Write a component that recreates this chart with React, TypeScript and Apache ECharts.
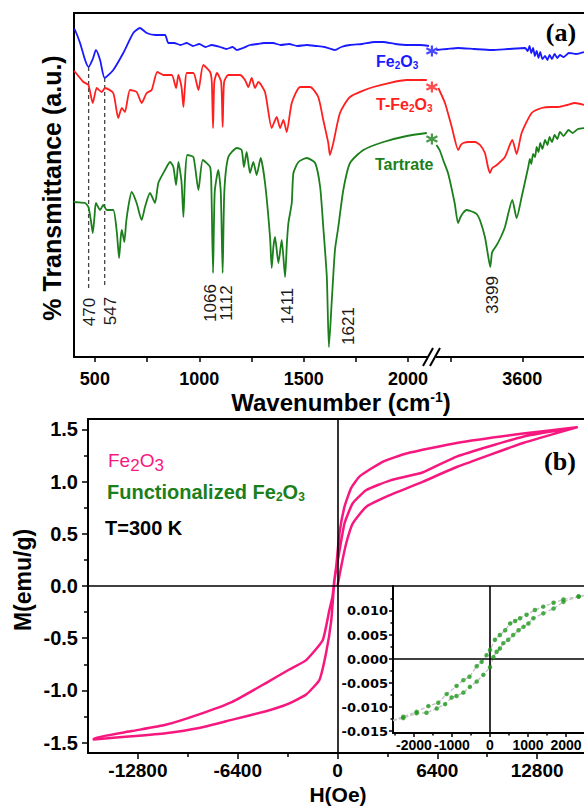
import { useEffect, useRef } from "react";
import * as echarts from "echarts";

type P = [number, number];

// ---------- (a) FTIR spectra (x: wavenumber cm-1, y: transmittance a.u.) ----------
const topLeftTicks = [500, 750, 1000, 1250, 1500, 1750, 2000];
const topLeftLabels = [500, 1000, 1500, 2000];
const topRightTicks = [3200, 3600, 4000];
const topRightLabels = [3600];

const blueLeft: P[] = [
  [400, 328], [405, 327], [429, 314], [453, 297], [470, 290], [490, 298], [505, 307], [525, 297],
  [547, 279], [588, 287], [636, 304], [684, 324], [716, 329], [748, 324], [790, 322], [836, 322],
  [852, 314], [880, 314], [910, 312], [940, 314], [970, 311], [1000, 313], [1030, 310], [1060, 312],
  [1100, 310], [1130, 308], [1160, 310], [1180, 307], [1210, 309], [1243, 312], [1280, 313],
  [1310, 314], [1353, 314], [1390, 312], [1430, 313], [1470, 311], [1515, 312], [1560, 311],
  [1600, 310], [1650, 307], [1680, 310], [1722, 312], [1780, 313], [1840, 315], [1880, 315],
  [1940, 313], [2000, 312], [2060, 312], [2100, 311],
];
const blueRight: P[] = [
  [3120, 307], [3180, 308], [3241, 309], [3330, 308], [3428, 307], [3520, 308], [3615, 309],
  [3630, 306], [3640, 311], [3650, 304], [3660, 309], [3670, 301], [3680, 306], [3690, 299],
  [3700, 305], [3712, 298], [3727, 301], [3740, 297], [3752, 302], [3765, 298], [3780, 303],
  [3795, 299], [3810, 302], [3830, 300], [3860, 304], [3900, 303], [3944, 305],
];
const redLeft: P[] = [
  [400, 286], [405, 285], [445, 275], [469, 272], [490, 254], [509, 269], [533, 265], [549, 269],
  [588, 264], [612, 239], [629, 249], [644, 245], [668, 267], [700, 265], [724, 254], [748, 264],
  [772, 267], [799, 285], [828, 282], [868, 282], [889, 269], [900, 282], [915, 270], [924, 250],
  [932, 272], [940, 284], [972, 284], [996, 267], [1019, 292], [1052, 285], [1060, 275],
  [1066, 229], [1072, 275], [1085, 284], [1105, 275], [1112, 230], [1119, 275], [1139, 282],
  [1195, 282], [1219, 277], [1235, 270], [1251, 279], [1267, 269], [1283, 275], [1315, 265],
  [1347, 229], [1371, 240], [1387, 229], [1403, 237], [1419, 225], [1443, 254], [1483, 270],
  [1531, 270], [1570, 260], [1594, 237], [1618, 214], [1626, 202], [1642, 214], [1674, 244],
  [1722, 260], [1834, 270], [1994, 277], [2090, 277],
];
const redRight: P[] = [
  [3131, 269], [3168, 254], [3206, 230], [3242, 207], [3256, 212], [3270, 214], [3300, 215],
  [3336, 215], [3364, 212], [3391, 204], [3408, 190], [3419, 184], [3432, 189], [3457, 192],
  [3503, 200], [3544, 217], [3568, 203], [3596, 224], [3652, 244], [3708, 249], [3760, 250],
  [3801, 250], [3850, 252], [3894, 254], [3944, 252],
];
const greenLeft: P[] = [
  [400, 156], [405, 155], [453, 154], [469, 150], [482, 135], [490, 124], [498, 140], [505, 154],
  [525, 147], [540, 152], [557, 147], [588, 147], [605, 125], [616, 99], [624, 120], [629, 127],
  [641, 115], [650, 135], [660, 150], [676, 165], [700, 154], [724, 137], [740, 150], [764, 164],
  [788, 154], [804, 174], [836, 187], [860, 195], [876, 190], [889, 172], [900, 195], [915, 175],
  [924, 140], [932, 180], [943, 202], [972, 200], [996, 167], [1017, 197], [1052, 190],
  [1058, 170], [1066, 84], [1074, 165], [1091, 187], [1103, 165], [1112, 84], [1120, 165],
  [1139, 200], [1180, 209], [1203, 207], [1214, 190], [1227, 205], [1243, 184], [1259, 195],
  [1275, 182], [1294, 199], [1315, 174], [1339, 120], [1347, 89], [1355, 110], [1363, 120],
  [1379, 94], [1395, 117], [1411, 80], [1420, 115], [1427, 134], [1443, 154], [1451, 184],
  [1475, 195], [1515, 199], [1555, 194], [1579, 170], [1594, 130], [1611, 80], [1621, 10],
  [1635, 57], [1650, 107], [1666, 130], [1690, 167], [1722, 194], [1786, 207], [1882, 215],
  [1994, 221], [2090, 224],
];
const greenRight: P[] = [
  [3120, 212], [3138, 207], [3160, 196], [3185, 184], [3222, 154], [3241, 134], [3255, 140],
  [3269, 144], [3288, 147], [3310, 146], [3325, 145], [3345, 143], [3363, 137], [3391, 120],
  [3410, 100], [3421, 90], [3430, 104], [3438, 107], [3457, 112], [3480, 120], [3503, 130],
  [3544, 157], [3568, 139], [3596, 160], [3633, 190], [3642, 198], [3650, 193], [3660, 203],
  [3671, 200], [3680, 210], [3690, 205], [3700, 214], [3712, 208], [3727, 217], [3740, 212],
  [3752, 220], [3765, 215], [3780, 222], [3795, 218], [3810, 225], [3830, 221], [3858, 227],
  [3880, 224], [3910, 228], [3946, 229],
];
const breakStars: P[] = [[3095, 306], [3095, 270], [3095, 218]];
const dash470: P[] = [[470, 290], [470, 69]];
const dash547: P[] = [[547, 279], [547, 69]];
const peakTexts = ["470", "547", "1066", "1112", "1411", "1621", "3399"];

// ---------- (b) M–H loop ----------
const mainXMajor = [-12800, -6400, 0, 6400, 12800];
const mainXMinor = [-9600, -3200, 3200, 9600];
const mainYMajor = [-1.5, -1.0, -0.5, 0, 0.5, 1.0, 1.5];
const mainYMinor = [-1.25, -0.75, -0.25, 0.25, 0.75, 1.25];

const loopVirgin: P[] = [
  [0, 0], [240, 0.19], [560, 0.41], [980, 0.6], [1850, 0.76], [3350, 0.87], [5490, 1.0],
  [7640, 1.14], [11900, 1.37], [15350, 1.52],
];
const loopDown: P[] = [
  [15350, 1.52], [11900, 1.46], [7640, 1.37], [4420, 1.27], [2890, 1.19], [1420, 1.05],
  [880, 0.94], [450, 0.76], [130, 0.51], [-80, 0.19], [-200, 0.06], [-320, -0.1], [-520, -0.23],
  [-950, -0.52], [-2010, -0.71], [-3090, -0.8], [-4590, -0.93], [-6750, -1.11], [-8880, -1.23],
  [-11020, -1.33], [-13190, -1.39], [-15630, -1.46],
];
const loopUp: P[] = [
  [-15630, -1.47], [-13190, -1.44], [-11020, -1.41], [-8880, -1.36], [-6730, -1.28],
  [-4590, -1.2], [-3520, -1.15], [-2880, -1.11], [-2010, -1.04], [-1160, -0.9], [-730, -0.64],
  [-400, -0.33], [-190, 0.06], [130, 0.34], [450, 0.6], [970, 0.79], [1850, 0.92], [3350, 1.01],
  [5490, 1.09], [7640, 1.24], [11900, 1.43], [15350, 1.52],
];

// inset: functionalized Fe2O3
const insetXMajor = [-2000, -1000, 0, 1000, 2000];
const insetXMinor = [-2500, -1500, -500, 500, 1500, 2500];
const insetYMajor = [-0.015, -0.01, -0.005, 0, 0.005, 0.01];
const insetYMinor = [-0.0125, -0.0075, -0.0025, 0.0025, 0.0075, 0.0125];
const insetUpper: P[] = [
  [-2280, -0.012], [-1930, -0.011], [-1620, -0.0098], [-1360, -0.0091], [-1140, -0.0073],
  [-880, -0.0056], [-700, -0.0044], [-540, -0.0037], [-350, -0.0015], [-220, -0.0006],
  [-90, 0.0008], [0, 0.0019], [130, 0.004], [260, 0.005], [400, 0.006], [530, 0.0074],
  [660, 0.0079], [790, 0.0085], [960, 0.0092], [1180, 0.0102], [1400, 0.0109], [1670, 0.0117],
  [1930, 0.0124], [2330, 0.013],
];
const insetLower: P[] = [
  [-2280, -0.0123], [-1930, -0.0113], [-1670, -0.0112], [-1400, -0.0103], [-1180, -0.0094],
  [-1010, -0.008], [-880, -0.0077], [-700, -0.007], [-530, -0.0058], [-350, -0.0047],
  [-175, -0.0033], [0, -0.0017], [90, 0.0004], [175, 0.0015], [260, 0.0022], [350, 0.0033],
  [480, 0.004], [610, 0.005], [750, 0.006], [880, 0.0067], [1010, 0.0074], [1140, 0.0085],
  [1400, 0.0095], [1670, 0.0105], [1930, 0.0119], [2330, 0.013],
];
const insetEdgeLeft: P = [-2550, -0.0128];
const insetEdgeRight: P = [2550, 0.0133];

// ---------- styling ----------
const BLUE = "#1a1aff";
const RED = "#ff1f1f";
const GREEN = "#1b7f1b";
const PINK = "#f7187f";
const DOT = "#1e9a1e";
const BLACK = "#000";
const FONT = "'Liberation Sans', Arial, Helvetica, sans-serif";
const SERIF = "'Liberation Serif', 'Times New Roman', serif";
const WIDE = "'DejaVu Sans', sans-serif";

const line2 = { show: true, onZero: false, lineStyle: { color: BLACK, width: 2 } };
const noLine = { show: false, onZero: false };
const ticks = (values: number[], length: number) => ({
  show: true, customValues: values, length, inside: false, lineStyle: { color: BLACK, width: 1.5 },
});
const noTick = { show: false };
const noLabel = { show: false };
const noSplit = { show: false };
const plain = (v: number) => String(v);
const lbl = (values: number[], margin: number, size: number, family: string, fmt: (v: number) => string = plain) => ({
  show: true, customValues: values, margin, fontSize: size, fontWeight: "bold", fontFamily: family, color: BLACK,
  formatter: fmt, hideOverlap: false, showMinLabel: true, showMaxLabel: true,
});

const lineSeries = (data: P[], color: string, xi: number, yi: number, width = 1.8, extra: any = {}) => ({
  type: "line", data, xAxisIndex: xi, yAxisIndex: yi, symbol: "none", showSymbol: false, silent: true,
  lineStyle: { color, width, join: "round" }, z: 3, ...extra,
});

const text = (x: number, y: number, t: string, fill: string, size: number, weight = "bold", extra: any = {}) => ({
  type: "text", x, y, z: 100, rotation: extra.rotation ?? 0,
  style: {
    text: t, fill, fontSize: size, fontWeight: weight, fontFamily: extra.family ?? FONT,
    textAlign: extra.align ?? "center", textVerticalAlign: "middle",
    align: extra.align ?? "center", verticalAlign: "middle",
  },
});
const subText = (x: number, y: number, t: string, fill: string, m: any, s: any, align = "left") => ({
  type: "text", x, y, z: 100,
  style: {
    text: t, fill, fontFamily: FONT, fontSize: m.fontSize, fontWeight: m.fontWeight,
    textAlign: align, textVerticalAlign: "middle", align, verticalAlign: "middle",
    rich: {
      m: { fill, fontFamily: FONT, ...m },
      s: { fill, fontFamily: FONT, verticalAlign: "bottom", ...s },
      p: { fill, fontFamily: FONT, verticalAlign: "top", ...s },
    },
  },
});

// sequence of text pieces laid out left to right, each with its own size and vertical shift
const measureCtx = typeof document !== "undefined" ? document.createElement("canvas").getContext("2d") : null;
const measure = (t: string, size: number, weight: string) => {
  if (!measureCtx) return t.length * size * 0.56;
  measureCtx.font = `${weight} ${size}px ${FONT}`;
  return measureCtx.measureText(t).width;
};
const pieces = (x: number, y: number, fill: string, weight: string, parts: [string, number, number][]) => {
  let cx = x;
  return parts.map(([t, size, dy]) => {
    const el = text(cx, y + dy, t, fill, size, weight, { align: "left" });
    cx += measure(t, size, weight);
    return el;
  });
};

const STAR = "path://M0,-6L0,6M-5.2,-3L5.2,3M-5.2,3L5.2,-3";

function buildOption() {
  const peakPos: [number, number][] = [[89, 312], [110, 311], [210, 303], [226, 303], [287, 306], [348, 326], [492, 295]];
  const ftir = { smooth: 0.2 };
  return {
    animation: false,
    backgroundColor: "#fff",
    grid: [
      { left: 74, top: 13, width: 357, height: 344, containLabel: false, outerBoundsMode: "none" },
      { left: 431, top: 13, width: 163, height: 344, containLabel: false, outerBoundsMode: "none" },
      { left: 88, top: 419, width: 499, height: 334, containLabel: false, outerBoundsMode: "none" },
      { left: 393, top: 586, width: 194, height: 147, containLabel: false, outerBoundsMode: "none" },
    ],
    xAxis: [
      { type: "value", gridIndex: 0, min: 400, max: 2110, position: "bottom", axisLine: line2,
        axisTick: ticks(topLeftTicks, 5), axisLabel: lbl(topLeftLabels, 13, 18, FONT), splitLine: noSplit },
      { type: "value", gridIndex: 1, min: 3090, max: 4000, position: "bottom", axisLine: line2,
        axisTick: ticks(topRightTicks, 5), axisLabel: lbl(topRightLabels, 13, 18, FONT), splitLine: noSplit },
      { type: "value", gridIndex: 0, min: 400, max: 2110, position: "top", axisLine: line2,
        axisTick: noTick, axisLabel: noLabel, splitLine: noSplit },
      { type: "value", gridIndex: 1, min: 3090, max: 4000, position: "top", axisLine: line2,
        axisTick: noTick, axisLabel: noLabel, splitLine: noSplit },
      { type: "value", gridIndex: 2, min: -16000, max: 16000, position: "bottom", axisLine: line2,
        axisTick: ticks(mainXMajor, 6), axisLabel: lbl(mainXMajor, 8, 19, FONT), splitLine: noSplit },
      { type: "value", gridIndex: 2, min: -16000, max: 16000, position: "bottom", axisLine: noLine,
        axisTick: ticks(mainXMinor, 4), axisLabel: noLabel, splitLine: noSplit },
      { type: "value", gridIndex: 2, min: -16000, max: 16000, position: "top", axisLine: line2,
        axisTick: noTick, axisLabel: noLabel, splitLine: noSplit },
      { type: "value", gridIndex: 3, min: -2550, max: 2550, position: "bottom", axisLine: line2,
        axisTick: ticks(insetXMajor, 4), axisLabel: lbl(insetXMajor, 5, 14, FONT), splitLine: noSplit },
      { type: "value", gridIndex: 3, min: -2550, max: 2550, position: "bottom", axisLine: noLine,
        axisTick: ticks(insetXMinor, 2.5), axisLabel: noLabel, splitLine: noSplit },
    ],
    yAxis: [
      { type: "value", gridIndex: 0, min: 0, max: 344, position: "left", axisLine: line2,
        axisTick: noTick, axisLabel: noLabel, splitLine: noSplit },
      { type: "value", gridIndex: 1, min: 0, max: 344, show: false, axisLine: noLine, splitLine: noSplit },
      { type: "value", gridIndex: 2, min: -1.6, max: 1.6, position: "left", axisLine: line2,
        axisTick: ticks(mainYMajor, 6), axisLabel: lbl(mainYMajor, 10, 20, FONT, (v: number) => v.toFixed(1)),
        splitLine: noSplit },
      { type: "value", gridIndex: 2, min: -1.6, max: 1.6, position: "left", axisLine: noLine,
        axisTick: ticks(mainYMinor, 4), axisLabel: noLabel, splitLine: noSplit },
      { type: "value", gridIndex: 3, min: -0.0154, max: 0.0152, position: "left", axisLine: line2,
        axisTick: ticks(insetYMajor, 4), axisLabel: lbl(insetYMajor, 5, 13, WIDE, (v: number) => v.toFixed(3)),
        splitLine: noSplit },
      { type: "value", gridIndex: 3, min: -0.0154, max: 0.0152, position: "left", axisLine: noLine,
        axisTick: ticks(insetYMinor, 2.5), axisLabel: noLabel, splitLine: noSplit },
    ],
    series: [
      lineSeries(dash470, "#444", 0, 0, 1.3, { lineStyle: { color: "#444", width: 1.3, type: [4, 3] } }),
      lineSeries(dash547, "#444", 0, 0, 1.3, { lineStyle: { color: "#444", width: 1.3, type: [4, 3] } }),
      lineSeries(blueLeft, BLUE, 0, 0, 1.8, ftir),
      lineSeries(redLeft, RED, 0, 0, 1.8, ftir),
      lineSeries(greenLeft, GREEN, 0, 0, 1.8, ftir),
      lineSeries(blueRight, BLUE, 1, 1, 1.8, ftir),
      lineSeries(redRight, RED, 1, 1, 1.8, ftir),
      lineSeries(greenRight, GREEN, 1, 1, 1.8, ftir),
      {
        type: "scatter", xAxisIndex: 1, yAxisIndex: 1, silent: true, symbol: STAR, symbolSize: 11, z: 4,
        data: breakStars.map((p, i) => ({
          value: p, itemStyle: { color: "none", borderColor: [BLUE, RED, GREEN][i], borderWidth: 2.2 },
        })),
      },
      lineSeries([...loopVirgin, ...loopDown, ...loopUp], PINK, 4, 2, 2.5, {
        smooth: 0.15,
        markLine: {
          silent: true, symbol: "none", animation: false, label: { show: false },
          lineStyle: { color: BLACK, width: 1.6, type: "solid" },
          data: [{ xAxis: 0 }, { yAxis: 0 }],
        },
      }),
      lineSeries([insetEdgeLeft, ...insetUpper, insetEdgeRight], "#c4c4c4", 7, 4, 1.4, {
        lineStyle: { color: "#c4c4c4", width: 1.4, type: [4, 2] },
        markLine: {
          silent: true, symbol: "none", animation: false, label: { show: false },
          lineStyle: { color: BLACK, width: 1.6, type: "solid" },
          data: [{ xAxis: 0 }, { yAxis: 0 }],
        },
      }),
      lineSeries([insetEdgeLeft, ...insetLower, insetEdgeRight], "#c4c4c4", 7, 4, 1.4, {
        lineStyle: { color: "#c4c4c4", width: 1.4, type: [4, 2] },
      }),
      { type: "scatter", xAxisIndex: 7, yAxisIndex: 4, silent: true, symbol: "circle", symbolSize: 4.5, z: 5,
        data: [...insetUpper, ...insetLower], itemStyle: { color: DOT } },
    ],
    graphic: [
      // axis break on the wavenumber axis
      { type: "rect", z: 100, shape: { x: 428, y: 353, width: 8, height: 8 }, style: { fill: "#fff" } },
      { type: "line", z: 101, shape: { x1: 423, y1: 366, x2: 433, y2: 348 }, style: { stroke: BLACK, lineWidth: 2 } },
      { type: "line", z: 101, shape: { x1: 430, y1: 366, x2: 440, y2: 348 }, style: { stroke: BLACK, lineWidth: 2 } },
      // peak labels
      ...peakTexts.map((t, i) => text(peakPos[i][0], peakPos[i][1], t, "#1a1a1a", 17, "normal", { rotation: Math.PI / 2 })),
      // series names (a)
      subText(376, 61, "{m|Fe}{s|2}{m|O}{s|3}", BLUE, { fontSize: 16, fontWeight: "bold", lineHeight: 18 },
        { fontSize: 10, fontWeight: "bold", lineHeight: 6 }),
      subText(376, 104, "{m|T-Fe}{s|2}{m|O}{s|3}", RED, { fontSize: 16, fontWeight: "bold", lineHeight: 18 },
        { fontSize: 10, fontWeight: "bold", lineHeight: 6 }),
      text(375, 164, "Tartrate", GREEN, 16, "bold", { align: "left" }),
      text(561, 32, "(a)", BLACK, 26, "bold", { family: SERIF }),
      // titles (a)
      text(52, 188, "% Transmittance (a.u.)", BLACK, 25, "bold", { rotation: Math.PI / 2 }),
      subText(341, 402, "{m|Wavenumber (cm}{p|-1}{m|)}", BLACK, { fontSize: 24, fontWeight: "bold", lineHeight: 24 },
        { fontSize: 14, fontWeight: "bold", lineHeight: 8 }, "center"),
      // (b)
      ...pieces(108, 460, PINK, "normal", [["Fe", 19, 0], ["2", 17, 5], ["O", 19, 0], ["3", 17, 5]]),
      subText(107, 492, "{m|Functionalized Fe}{s|2}{m|O}{s|3}", GREEN, { fontSize: 20, fontWeight: "bold", lineHeight: 22 },
        { fontSize: 12, fontWeight: "bold", lineHeight: 8 }),
      text(105, 528, "T=300 K", BLACK, 20, "bold", { align: "left" }),
      text(560, 461, "(b)", BLACK, 26, "bold", { family: SERIF }),
      text(23, 580, "M(emu/g)", BLACK, 23, "bold", { rotation: Math.PI / 2 }),
      text(338, 794, "H(Oe)", BLACK, 21, "bold"),
    ],
  };
}

export default function App() {
  const ref = useRef<HTMLDivElement>(null);
  useEffect(() => {
    if (!ref.current) return;
    const chart = echarts.init(ref.current, null, { renderer: "svg" });
    chart.setOption(buildOption() as any);
    return () => chart.dispose();
  }, []);
  return (
    <div
      ref={ref}
      style={{ position: "absolute", left: 0, top: 0, width: 584, height: 806, background: "#fff" }}
    />
  );
}
